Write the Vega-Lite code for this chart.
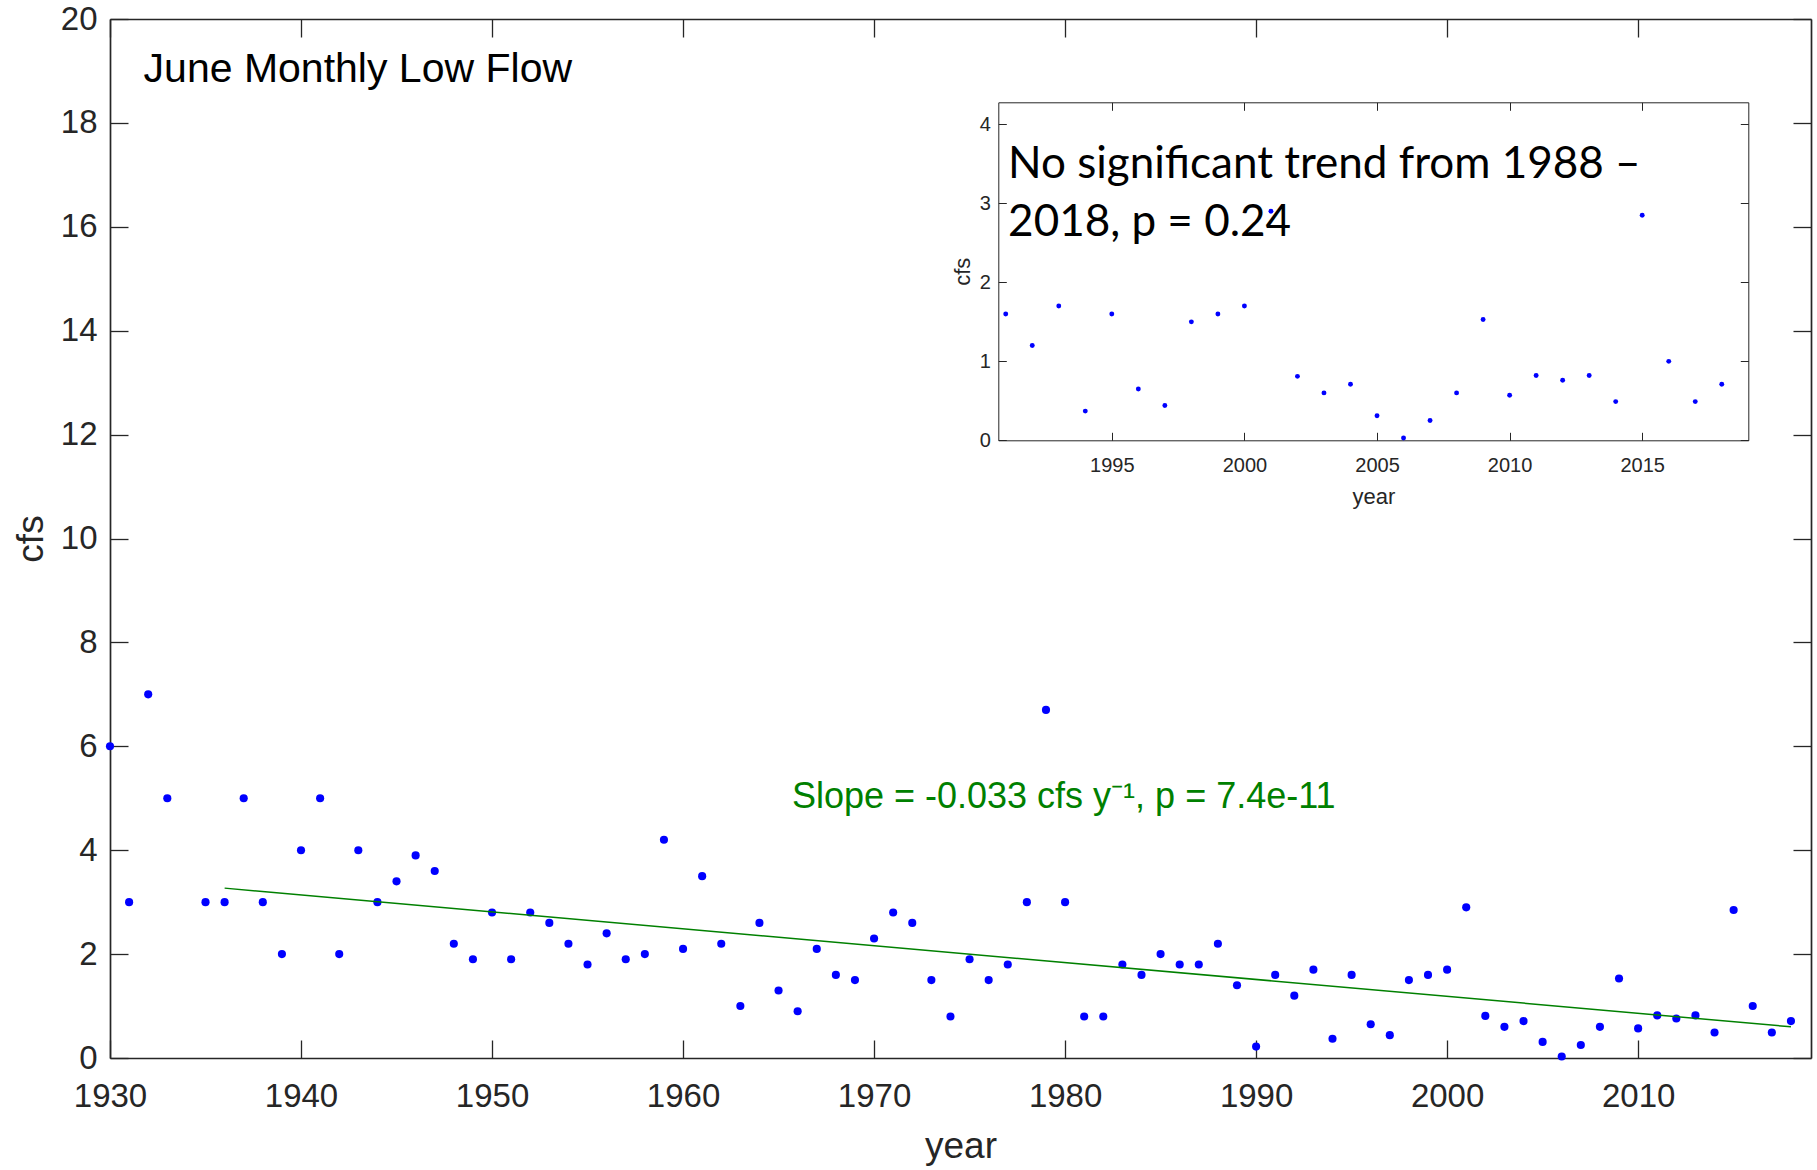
{
  "$schema": "https://vega.github.io/schema/vega-lite/v6.json",
  "width": 1701,
  "height": 1039,
  "autosize": {"type": "none"},
  "padding": {"left": 110, "top": 19, "right": 6, "bottom": 112},
  "background": "white",
  "config": {"view": {"stroke": null}, "axis": {"grid": false}},
  "datasets": {
    "flow": [
      {"year": 1930, "cfs": 6}, {"year": 1931, "cfs": 3}, {"year": 1932, "cfs": 7}, {"year": 1933, "cfs": 5},
      {"year": 1935, "cfs": 3}, {"year": 1936, "cfs": 3}, {"year": 1937, "cfs": 5}, {"year": 1938, "cfs": 3},
      {"year": 1939, "cfs": 2}, {"year": 1940, "cfs": 4}, {"year": 1941, "cfs": 5}, {"year": 1942, "cfs": 2},
      {"year": 1943, "cfs": 4}, {"year": 1944, "cfs": 3}, {"year": 1945, "cfs": 3.4}, {"year": 1946, "cfs": 3.9},
      {"year": 1947, "cfs": 3.6}, {"year": 1948, "cfs": 2.2}, {"year": 1949, "cfs": 1.9}, {"year": 1950, "cfs": 2.8},
      {"year": 1951, "cfs": 1.9}, {"year": 1952, "cfs": 2.8}, {"year": 1953, "cfs": 2.6}, {"year": 1954, "cfs": 2.2},
      {"year": 1955, "cfs": 1.8}, {"year": 1956, "cfs": 2.4}, {"year": 1957, "cfs": 1.9}, {"year": 1958, "cfs": 2.0},
      {"year": 1959, "cfs": 4.2}, {"year": 1960, "cfs": 2.1}, {"year": 1961, "cfs": 3.5}, {"year": 1962, "cfs": 2.2},
      {"year": 1963, "cfs": 1.0}, {"year": 1964, "cfs": 2.6}, {"year": 1965, "cfs": 1.3}, {"year": 1966, "cfs": 0.9},
      {"year": 1967, "cfs": 2.1}, {"year": 1968, "cfs": 1.6}, {"year": 1969, "cfs": 1.5}, {"year": 1970, "cfs": 2.3},
      {"year": 1971, "cfs": 2.8}, {"year": 1972, "cfs": 2.6}, {"year": 1973, "cfs": 1.5}, {"year": 1974, "cfs": 0.8},
      {"year": 1975, "cfs": 1.9}, {"year": 1976, "cfs": 1.5}, {"year": 1977, "cfs": 1.8}, {"year": 1978, "cfs": 3.0},
      {"year": 1979, "cfs": 6.7}, {"year": 1980, "cfs": 3.0}, {"year": 1981, "cfs": 0.8}, {"year": 1982, "cfs": 0.8},
      {"year": 1983, "cfs": 1.8}, {"year": 1984, "cfs": 1.6}, {"year": 1985, "cfs": 2.0}, {"year": 1986, "cfs": 1.8},
      {"year": 1987, "cfs": 1.8}, {"year": 1988, "cfs": 2.2}, {"year": 1989, "cfs": 1.4}, {"year": 1990, "cfs": 0.22},
      {"year": 1991, "cfs": 1.6}, {"year": 1992, "cfs": 1.2}, {"year": 1993, "cfs": 1.7}, {"year": 1994, "cfs": 0.37},
      {"year": 1995, "cfs": 1.6}, {"year": 1996, "cfs": 0.65}, {"year": 1997, "cfs": 0.44}, {"year": 1998, "cfs": 1.5},
      {"year": 1999, "cfs": 1.6}, {"year": 2000, "cfs": 1.7}, {"year": 2001, "cfs": 2.9}, {"year": 2002, "cfs": 0.81},
      {"year": 2003, "cfs": 0.6}, {"year": 2004, "cfs": 0.71}, {"year": 2005, "cfs": 0.31}, {"year": 2006, "cfs": 0.03},
      {"year": 2007, "cfs": 0.25}, {"year": 2008, "cfs": 0.6}, {"year": 2009, "cfs": 1.53}, {"year": 2010, "cfs": 0.57},
      {"year": 2011, "cfs": 0.82}, {"year": 2012, "cfs": 0.76}, {"year": 2013, "cfs": 0.82}, {"year": 2014, "cfs": 0.49},
      {"year": 2015, "cfs": 2.85}, {"year": 2016, "cfs": 1.0}, {"year": 2017, "cfs": 0.49}, {"year": 2018, "cfs": 0.71}
    ],
    "trend": [{"year": 1936, "cfs": 3.27}, {"year": 2018, "cfs": 0.6}],
    "notes": [
      {"year": 1931.76, "cfs": 18.79, "label": "June Monthly Low Flow"},
      {"year": 1965.7, "cfs": 4.81, "label": "Slope = -0.033 cfs y⁻¹, p = 7.4e-11"}
    ],
    "insetnote": [{"year": 1991.09, "cfs": 3.32, "label": ["No significant trend from 1988 –", "2018, p = 0.24"]}]
  },
  "layer": [
    {
      "layer": [
        {
          "data": {"name": "flow"},
          "mark": {"type": "point", "filled": true, "color": "#0000FF", "opacity": 1, "size": 66},
          "encoding": {
            "x": {"field": "year", "type": "quantitative",
              "scale": {"domain": [1930, 2019.05], "nice": false, "zero": false},
              "axis": {"orient": "bottom", "values": [1930, 1940, 1950, 1960, 1970, 1980, 1990, 2000, 2010], "format": "d",
                "tickSize": -18, "labelPadding": 40, "labelFontSize": 33, "labelFont": "Liberation Sans", "labelColor": "#262626",
                "labelFlush": false, "labelOverlap": false,
                "title": "year", "titleFontSize": 37, "titleFont": "Liberation Sans", "titleFontWeight": "normal", "titleColor": "#262626",
                "titleBaseline": "alphabetic", "titleY": 99,
                "domainColor": "#262626", "domainWidth": 1.7, "tickColor": "#262626", "tickWidth": 1.3}},
            "y": {"field": "cfs", "type": "quantitative",
              "scale": {"domain": [0, 20], "nice": false},
              "axis": {"orient": "left", "values": [0, 2, 4, 6, 8, 10, 12, 14, 16, 18, 20],
                "tickSize": -18, "labelPadding": 31, "labelFontSize": 33, "labelFont": "Liberation Sans", "labelColor": "#262626",
                "labelFlush": false, "labelOverlap": false,
                "title": "cfs", "titleFontSize": 37, "titleFont": "Liberation Sans", "titleFontWeight": "normal", "titleColor": "#262626",
                "titleBaseline": "alphabetic", "titleX": -68,
                "domainColor": "#262626", "domainWidth": 1.7, "tickColor": "#262626", "tickWidth": 1.3}}
          }
        },
        {
          "data": {"name": "flow"},
          "mark": {"type": "point", "opacity": 0},
          "encoding": {
            "x": {"field": "year", "type": "quantitative",
              "axis": {"orient": "top", "values": [1930, 1940, 1950, 1960, 1970, 1980, 1990, 2000, 2010], "labels": false, "title": null,
                "tickSize": -18, "domainColor": "#262626", "domainWidth": 1.7, "tickColor": "#262626", "tickWidth": 1.3}},
            "y": {"field": "cfs", "type": "quantitative",
              "axis": {"orient": "right", "values": [0, 2, 4, 6, 8, 10, 12, 14, 16, 18, 20], "labels": false, "title": null,
                "tickSize": -18, "domainColor": "#262626", "domainWidth": 1.7, "tickColor": "#262626", "tickWidth": 1.3}}
          }
        },
        {
          "data": {"name": "trend"},
          "mark": {"type": "line", "color": "#008000", "strokeWidth": 1.5},
          "encoding": {
            "x": {"field": "year", "type": "quantitative", "axis": null},
            "y": {"field": "cfs", "type": "quantitative", "axis": null}
          }
        },
        {
          "data": {"name": "notes"},
          "mark": {"type": "text", "align": "left", "baseline": "alphabetic", "font": "Liberation Sans"},
          "encoding": {
            "x": {"field": "year", "type": "quantitative", "axis": null},
            "y": {"field": "cfs", "type": "quantitative", "axis": null},
            "text": {"field": "label"},
            "color": {"field": "label", "type": "nominal", "legend": null,
              "scale": {"domain": ["June Monthly Low Flow", "Slope = -0.033 cfs y⁻¹, p = 7.4e-11"], "range": ["#000000", "#008000"]}},
            "size": {"field": "label", "type": "nominal", "legend": null,
              "scale": {"type": "ordinal", "domain": ["June Monthly Low Flow", "Slope = -0.033 cfs y⁻¹, p = 7.4e-11"], "range": [41, 36]}}
          }
        }
      ],
      "resolve": {"axis": {"x": "independent", "y": "independent"}}
    },
    {
      "layer": [
        {
          "data": {"name": "flow"},
          "transform": [{"filter": "datum.year >= 1991"}],
          "mark": {"type": "point", "filled": true, "color": "#0000FF", "opacity": 1, "size": 24},
          "encoding": {
            "x": {"field": "year", "type": "quantitative",
              "scale": {"domain": [1990.72, 2019], "range": [888.3, 1638.3], "nice": false, "zero": false},
              "axis": {"orient": "bottom", "offset": -617.7, "values": [1995, 2000, 2005, 2010, 2015], "format": "d",
                "tickSize": -8, "labelPadding": 23, "labelFontSize": 20, "labelFont": "Liberation Sans", "labelColor": "#262626",
                "labelFlush": false, "labelOverlap": false,
                "title": "year", "titleFontSize": 22, "titleFont": "Liberation Sans", "titleFontWeight": "normal", "titleColor": "#262626",
                "titleBaseline": "alphabetic", "titleY": 63,
                "domainColor": "#262626", "domainWidth": 1, "tickColor": "#262626", "tickWidth": 1}},
            "y": {"field": "cfs", "type": "quantitative",
              "scale": {"domain": [0, 4.28], "range": [421.3, 83.3], "nice": false, "zero": false},
              "axis": {"orient": "left", "offset": -888.3, "values": [0, 1, 2, 3, 4],
                "tickSize": -8, "labelPadding": 16, "labelFontSize": 20, "labelFont": "Liberation Sans", "labelColor": "#262626",
                "labelFlush": false, "labelOverlap": false,
                "title": "cfs", "titleFontSize": 22, "titleFont": "Liberation Sans", "titleFontWeight": "normal", "titleColor": "#262626",
                "titleBaseline": "alphabetic", "titleX": -29,
                "domainColor": "#262626", "domainWidth": 1, "tickColor": "#262626", "tickWidth": 1}}
          }
        },
        {
          "data": {"name": "flow"},
          "transform": [{"filter": "datum.year >= 1991"}],
          "mark": {"type": "point", "opacity": 0},
          "encoding": {
            "x": {"field": "year", "type": "quantitative",
              "axis": {"orient": "top", "offset": -83.3, "values": [1995, 2000, 2005, 2010, 2015], "labels": false, "title": null,
                "tickSize": -8, "domainColor": "#262626", "domainWidth": 1, "tickColor": "#262626", "tickWidth": 1}},
            "y": {"field": "cfs", "type": "quantitative",
              "axis": {"orient": "right", "offset": -62.7, "values": [0, 1, 2, 3, 4], "labels": false, "title": null,
                "tickSize": -8, "domainColor": "#262626", "domainWidth": 1, "tickColor": "#262626", "tickWidth": 1}}
          }
        },
        {
          "data": {"name": "insetnote"},
          "mark": {"type": "text", "align": "left", "baseline": "alphabetic", "font": "Lato", "fontSize": 44, "lineHeight": 58, "color": "#000000"},
          "encoding": {
            "x": {"field": "year", "type": "quantitative", "axis": null},
            "y": {"field": "cfs", "type": "quantitative", "axis": null},
            "text": {"field": "label"}
          }
        }
      ],
      "resolve": {"axis": {"x": "independent", "y": "independent"}}
    }
  ],
  "resolve": {"scale": {"x": "independent", "y": "independent"}, "axis": {"x": "independent", "y": "independent"}}
}
